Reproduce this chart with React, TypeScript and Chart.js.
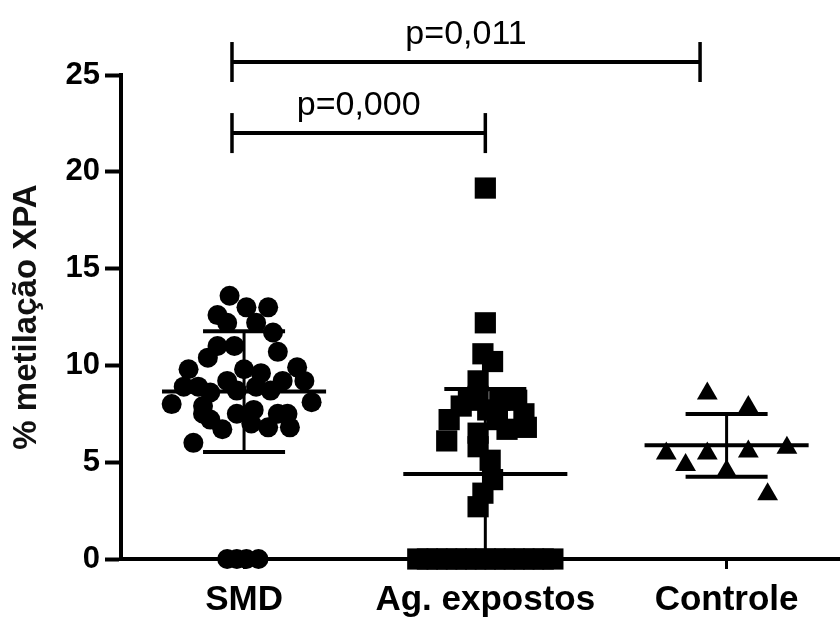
import React, { useEffect, useRef } from 'react';
import { Chart, registerables } from 'chart.js';

Chart.register(...registerables);

// Categories (x = 1, 2, 3)
const categories = ['SMD', 'Ag. expostos', 'Controle'];

// SMD group (circles)
const smdValues = [
  13.6, 12.6, 13.0, 13.0, 11.7, 10.7, 9.9, 9.2, 8.1, 8.0,
  9.8, 8.9, 10.4, 11.0, 6.0, 7.5, 7.2, 6.7, 7.0, 6.8,
  6.8, 7.5, 8.7, 8.9, 8.7, 9.2, 9.8, 9.6, 9.2, 8.6,
  8.9, 11.0, 12.2, 12.2, 7.9, 7.5, 7.7, 7.5, 0, 0, 0, 0,
];
const smdJitter = [
  -0.06, -0.11, 0.01, 0.10, 0.12, 0.14, 0.22, 0.25, 0.28, -0.30,
  -0.23, -0.25, -0.15, -0.11, -0.21, -0.17, -0.14, -0.09, 0.03, 0.10,
  0.19, 0.18, -0.03, 0.05, 0.11, -0.07, 0.00, 0.07, 0.16, -0.14,
  -0.19, -0.04, -0.07, 0.05, -0.17, -0.03, 0.04, 0.14, -0.07, -0.03, 0.01, 0.06,
];

// Ag. expostos group (squares)
const agValues = [
  19.16, 12.2, 10.6, 10.2, 9.2, 7.9, 7.2, 6.1, 8.2, 8.4,
  8.2, 8.2, 7.5, 6.8, 7.7, 7.2, 6.7, 6.5, 5.8, 5.1,
  4.1, 3.4, 2.7,
  0, 0, 0, 0, 0, 0, 0, 0, 0, 0, 0, 0, 0, 0, 0,
];
const agJitter = [
  0.00, 0.00, -0.01, 0.03, -0.03, -0.10, -0.15, -0.16, -0.07, -0.03,
  0.06, 0.13, 0.16, 0.17, 0.01, 0.05, 0.09, -0.03, -0.03, 0.02,
  0.03, -0.01, -0.03,
  -0.28, -0.24, -0.20, -0.16, -0.12, -0.08, -0.04, 0.00, 0.04, 0.08, 0.12, 0.16, 0.20, 0.24, 0.28,
];

// Controle group (triangles)
const ctrlValues = [8.55, 7.85, 5.45, 5.45, 5.55, 5.75, 4.85, 4.55, 3.35];
const ctrlJitter = [-0.08, 0.09, -0.25, -0.08, 0.09, 0.25, -0.17, 0.00, 0.17];

// Summary statistics (mean ± SD) per group
const groupMeans = [8.65, 4.39, 5.87];
const groupSD = [3.12, 4.39, 1.62];

// Significance brackets
const comparisonLabels = ['p=0,000', 'p=0,011'];
const comparisonFrom = [0.95, 0.95];
const comparisonTo = [2.0, 2.89];
const comparisonLevel = [22.0, 25.67];

const yTicks = [0, 5, 10, 15, 20, 25];

const FONT = '"Liberation Sans", Arial, sans-serif';

export default function App() {
  const ref = useRef<HTMLCanvasElement>(null);

  useEffect(() => {
    const canvas = ref.current;
    if (!canvas) return;

    const toPoints = (center: number, values: number[], jitter: number[]) =>
      values.map((v, i) => ({ x: center + jitter[i], y: v }));

    const statsPlugin = {
      id: 'statsPlugin',
      afterDatasetsDraw(chart: any) {
        const { ctx, scales } = chart;
        const x = scales.x;
        const y = scales.y;
        ctx.save();
        ctx.strokeStyle = '#000';
        ctx.lineCap = 'butt';
        groupMeans.forEach((m, i) => {
          const c = i + 1;
          const sd = groupSD[i];
          const lo = Math.max(0, m - sd);
          const hi = m + sd;
          ctx.lineWidth = 4;
          ctx.beginPath();
          ctx.moveTo(x.getPixelForValue(c - 0.34), y.getPixelForValue(m));
          ctx.lineTo(x.getPixelForValue(c + 0.34), y.getPixelForValue(m));
          ctx.stroke();
          ctx.lineWidth = 3;
          ctx.beginPath();
          ctx.moveTo(x.getPixelForValue(c), y.getPixelForValue(lo));
          ctx.lineTo(x.getPixelForValue(c), y.getPixelForValue(hi));
          ctx.stroke();
          ctx.lineWidth = 4;
          [lo, hi].forEach((v) => {
            ctx.beginPath();
            ctx.moveTo(x.getPixelForValue(c - 0.17), y.getPixelForValue(v));
            ctx.lineTo(x.getPixelForValue(c + 0.17), y.getPixelForValue(v));
            ctx.stroke();
          });
        });
        ctx.restore();
      },
      afterDraw(chart: any) {
        const { ctx, scales } = chart;
        const x = scales.x;
        const y = scales.y;
        ctx.save();
        ctx.strokeStyle = '#000';
        ctx.fillStyle = '#000';
        comparisonLabels.forEach((label, i) => {
          const x1 = x.getPixelForValue(comparisonFrom[i]);
          const x2 = x.getPixelForValue(comparisonTo[i]);
          const yl = y.getPixelForValue(comparisonLevel[i]);
          ctx.lineWidth = 4;
          ctx.beginPath();
          ctx.moveTo(x1, yl);
          ctx.lineTo(x2, yl);
          ctx.stroke();
          ctx.lineWidth = 3.5;
          [x1, x2].forEach((px) => {
            ctx.beginPath();
            ctx.moveTo(px, yl - 20);
            ctx.lineTo(px, yl + 20);
            ctx.stroke();
          });
          ctx.font = `34px ${FONT}`;
          ctx.textAlign = 'center';
          ctx.textBaseline = 'alphabetic';
          ctx.fillText(label, (x1 + x2) / 2, yl - 18);
        });
        ctx.restore();
      },
    };

    const chart = new Chart(canvas, {
      type: 'scatter',
      data: {
        datasets: [
          {
            label: categories[0],
            data: toPoints(1, smdValues, smdJitter),
            pointStyle: 'circle',
            pointRadius: 10,
            backgroundColor: '#000',
            borderColor: '#000',
            borderWidth: 0,
            clip: false as any,
          },
          {
            label: categories[1],
            data: toPoints(2, agValues, agJitter),
            pointStyle: 'rect',
            pointRadius: 15,
            backgroundColor: '#000',
            borderColor: '#000',
            borderWidth: 0,
            clip: false as any,
          },
          {
            label: categories[2],
            data: toPoints(3, ctrlValues, ctrlJitter),
            pointStyle: 'triangle',
            pointRadius: 12,
            backgroundColor: '#000',
            borderColor: '#000',
            borderWidth: 0,
            clip: false as any,
          },
        ],
      },
      options: {
        animation: false,
        responsive: false,
        devicePixelRatio: 1,
        layout: { autoPadding: false, padding: { top: 75, left: 0, right: 0, bottom: 0 } },
        plugins: {
          legend: { display: false },
          tooltip: { enabled: false },
        },
        scales: {
          x: {
            type: 'linear',
            min: 0.49,
            max: 3.47,
            afterBuildTicks: (scale: any) => {
              scale.ticks = categories.map((_, i) => ({ value: i + 1 }));
            },
            afterFit: (scale: any) => {
              scale.height = 58;
            },
            ticks: {
              autoSkip: false,
              maxRotation: 0,
              padding: 10,
              color: '#000',
              font: { family: FONT, size: 35, weight: 'bold' },
              callback: (v: any) => categories[Math.round(Number(v)) - 1] ?? '',
            },
            grid: {
              drawOnChartArea: false,
              drawTicks: true,
              tickLength: 10,
              tickWidth: 3,
              tickColor: '#000',
            },
            border: { display: true, width: 4, color: '#000' },
          },
          y: {
            type: 'linear',
            min: 0,
            max: 25,
            afterBuildTicks: (scale: any) => {
              scale.ticks = yTicks.map((v) => ({ value: v }));
            },
            afterFit: (scale: any) => {
              scale.width = 121;
            },
            ticks: {
              padding: 5,
              color: '#000',
              font: { family: FONT, size: 31, weight: 'bold' },
            },
            grid: {
              drawOnChartArea: false,
              drawTicks: true,
              tickLength: 16,
              tickWidth: 4,
              tickColor: '#000',
            },
            border: { display: true, width: 4, color: '#000' },
            title: {
              display: true,
              text: '% metilação XPA',
              color: '#111',
              padding: { top: 7, bottom: 0 },
              font: { family: FONT, size: 33, weight: 'bold' },
            },
          },
        },
      },
      plugins: [statsPlugin],
    } as any);

    return () => chart.destroy();
  }, []);

  return (
    <div style={{ position: 'fixed', left: 0, top: 0, width: 840, height: 617, background: '#fff' }}>
      <canvas ref={ref} width={840} height={617} style={{ display: 'block', width: 840, height: 617 }} />
    </div>
  );
}
